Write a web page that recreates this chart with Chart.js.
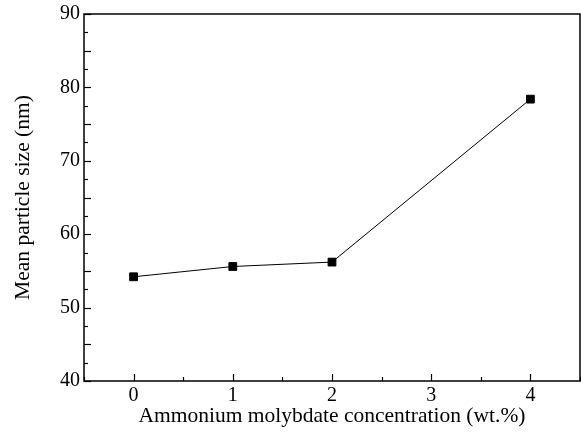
<!DOCTYPE html>
<html>
<head>
<meta charset="utf-8">
<script src="https://cdn.jsdelivr.net/npm/chart.js@4.4.0/dist/chart.umd.min.js"></script>
<style>
    html, body { margin: 0; padding: 0; background: #fff; }
    #wrap { width: 581px; height: 432px; }
</style>
</head>
<body>
<div id="wrap"><canvas id="sizeChart" width="581" height="432"></canvas></div>
<script>
    // concentration (wt.%) vs mean particle size (nm)
    const concentrations = [0, 1, 2, 4];
    const meanSizes = [54.2, 55.6, 56.2, 78.4];

    const xTickValues = [0, 1, 2, 3, 4];
    const xMinorValues = [-0.5, 0.5, 1.5, 2.5, 3.5, 4.5];
    const yTickValues = [40, 50, 60, 70, 80, 90];
    const yMidValues = [45, 55, 65, 75, 85];
    const yMinorValues = [42.5, 47.5, 52.5, 57.5, 62.5, 67.5, 72.5, 77.5, 82.5, 87.5];

    const FONT = "'Liberation Serif', 'Times New Roman', serif";

    /** 축 프레임과 안쪽으로 향하는 눈금을 그린다. */
    const frameTicksPlugin = {
        id: "frameTicksPlugin",
        afterDraw(chart) {
            const { ctx, chartArea: a, scales } = chart;
            ctx.save();
            ctx.strokeStyle = "#000";
            ctx.lineWidth = 1.5;
            ctx.strokeRect(a.left, a.top, a.right - a.left, a.bottom - a.top);

            ctx.lineWidth = 1.2;
            const tick = (x1, y1, x2, y2) => {
                ctx.beginPath();
                ctx.moveTo(x1, y1);
                ctx.lineTo(x2, y2);
                ctx.stroke();
            };
            xTickValues.forEach((v) => {
                const x = Math.round(scales.x.getPixelForValue(v)) + 0.5;
                tick(x, a.bottom, x, a.bottom - 7);
            });
            xMinorValues.forEach((v) => {
                const x = Math.round(scales.x.getPixelForValue(v)) + 0.5;
                tick(x, a.bottom, x, a.bottom - 4);
            });
            yTickValues.concat(yMidValues).forEach((v) => {
                const y = Math.round(scales.y.getPixelForValue(v)) + 0.5;
                tick(a.left, y, a.left + 7, y);
            });
            yMinorValues.forEach((v) => {
                const y = Math.round(scales.y.getPixelForValue(v)) + 0.5;
                tick(a.left, y, a.left + 4, y);
            });
            ctx.restore();
        }
    };

    new Chart(document.getElementById("sizeChart").getContext("2d"), {
        type: "scatter",
        data: {
            datasets: [{
                label: "Mean particle size",
                data: concentrations.map((c, i) => ({ x: c, y: meanSizes[i] })),
                showLine: true,
                borderColor: "#000",
                borderWidth: 1,
                backgroundColor: "#000",
                pointStyle: "rect",
                pointRadius: 5.5,
                pointBorderWidth: 1,
                pointBorderColor: "#000",
                pointBackgroundColor: "#000"
            }]
        },
        options: {
            responsive: false,
            animation: false,
            devicePixelRatio: 1,
            layout: { autoPadding: false, padding: { top: 14, right: 1, left: 0, bottom: 0 } },
            plugins: {
                legend: { display: false },
                tooltip: { enabled: false }
            },
            scales: {
                x: {
                    type: "linear",
                    min: -0.5,
                    max: 4.5,
                    afterBuildTicks: (s) => { s.ticks = xTickValues.map((v) => ({ value: v })); },
                    afterFit: (s) => {
                        s.height = 51;
                        s.paddingLeft = 0;
                        s.paddingRight = 0;
                    },
                    grid: { display: false, drawTicks: false },
                    border: { display: false },
                    ticks: {
                        color: "#000",
                        padding: 3,
                        font: { family: FONT, size: 20 }
                    },
                    title: {
                        display: true,
                        text: "Ammonium molybdate concentration (wt.%)",
                        color: "#000",
                        font: { family: FONT, size: 21.5 },
                        padding: { top: 0, bottom: 3 }
                    }
                },
                y: {
                    type: "linear",
                    min: 40,
                    max: 90,
                    afterBuildTicks: (s) => { s.ticks = yTickValues.map((v) => ({ value: v })); },
                    afterFit: (s) => {
                        s.width = 84;
                        s.paddingTop = 0;
                        s.paddingBottom = 0;
                    },
                    grid: { display: false, drawTicks: false },
                    border: { display: false },
                    ticks: {
                        color: "#000",
                        padding: 4,
                        font: { family: FONT, size: 20 }
                    },
                    title: {
                        display: true,
                        text: "Mean particle size (nm)",
                        color: "#000",
                        font: { family: FONT, size: 21.5 },
                        padding: { top: 10.5, bottom: 0 }
                    }
                }
            }
        },
        plugins: [frameTicksPlugin]
    });
</script>
</body>
</html>
